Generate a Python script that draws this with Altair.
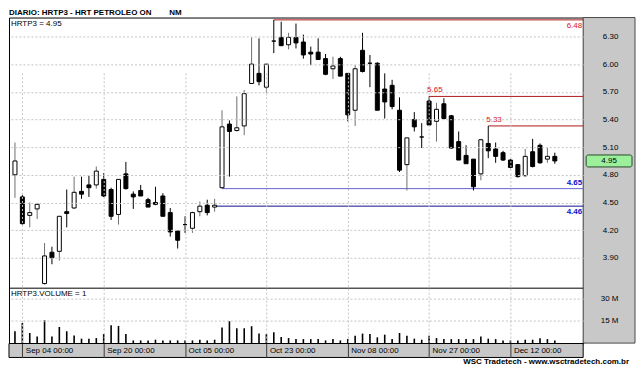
import altair as alt
import pandas as pd

# ---------------- data ----------------
dates = [
    "2012-09-03", "2012-09-04", "2012-09-05", "2012-09-06", "2012-09-10", "2012-09-11", "2012-09-12",
    "2012-09-13", "2012-09-14", "2012-09-17", "2012-09-18", "2012-09-19", "2012-09-20", "2012-09-21",
    "2012-09-24", "2012-09-25", "2012-09-26", "2012-09-27", "2012-09-28", "2012-10-01", "2012-10-02",
    "2012-10-03", "2012-10-04", "2012-10-05", "2012-10-08", "2012-10-09", "2012-10-10", "2012-10-11",
    "2012-10-15", "2012-10-16", "2012-10-17", "2012-10-18", "2012-10-19", "2012-10-22", "2012-10-23",
    "2012-10-24", "2012-10-25", "2012-10-26", "2012-10-29", "2012-10-30", "2012-10-31", "2012-11-01",
    "2012-11-05", "2012-11-06", "2012-11-07", "2012-11-08", "2012-11-09", "2012-11-12", "2012-11-13",
    "2012-11-14", "2012-11-16", "2012-11-19", "2012-11-21", "2012-11-22", "2012-11-23", "2012-11-26",
    "2012-11-27", "2012-11-28", "2012-11-29", "2012-11-30", "2012-12-03", "2012-12-04", "2012-12-05",
    "2012-12-06", "2012-12-07", "2012-12-10", "2012-12-11", "2012-12-12", "2012-12-13", "2012-12-14",
    "2012-12-17", "2012-12-18", "2012-12-19", "2012-12-20",
]
opens = [4.80, 4.56, 4.36, 4.43, 3.62, 3.96, 3.97, 4.40, 4.44, 4.62,
         4.69, 4.69, 4.75, 4.64, 4.37, 4.81, 4.59, 4.63, 4.53, 4.50,
         4.57, 4.39, 4.19, 4.26, 4.22, 4.40, 4.47, 4.45, 4.66, 5.35,
         5.28, 5.33, 5.79, 5.90, 5.75, 6.25, 6.29, 6.21, 6.29, 6.24,
         6.13, 6.13, 6.06, 5.95, 6.06, 5.90, 5.50, 6.15, 6.01, 6.01,
         5.73, 5.77, 5.50, 4.91, 5.40, 5.21, 5.60, 5.38, 5.57, 5.44,
         5.16, 5.01, 4.97, 4.81, 5.14, 5.08, 5.04, 4.96, 4.91, 4.79,
         5.05, 5.12, 4.97, 5.00]
highs = [5.15, 4.58, 4.50, 4.49, 4.06, 4.02, 4.35, 4.64, 4.78, 4.78,
         4.79, 4.89, 4.82, 4.66, 4.75, 4.94, 4.62, 4.69, 4.55, 4.67,
         4.60, 4.44, 4.19, 4.35, 4.40, 4.51, 4.53, 4.54, 5.50, 5.39,
         5.65, 5.72, 6.29, 6.28, 6.00, 6.48, 6.46, 6.34, 6.44, 6.32,
         6.19, 6.28, 6.11, 6.08, 6.08, 5.90, 5.99, 6.34, 6.10, 6.02,
         5.90, 5.83, 5.64, 5.20, 5.48, 5.36, 5.65, 5.58, 5.63, 5.45,
         5.27, 5.12, 4.97, 5.19, 5.33, 5.15, 5.06, 4.97, 4.91, 5.08,
         5.19, 5.14, 5.09, 5.04]
lows = [4.55, 4.26, 4.23, 4.32, 3.61, 3.83, 3.87, 4.23, 4.43, 4.54,
        4.56, 4.65, 4.56, 4.31, 4.26, 4.64, 4.43, 4.57, 4.45, 4.47,
        4.35, 4.13, 4.00, 4.17, 4.17, 4.35, 4.36, 4.40, 4.65, 4.78,
        5.27, 5.23, 5.79, 5.77, 5.69, 6.12, 6.20, 6.16, 6.17, 6.06,
        5.99, 6.05, 5.88, 5.84, 5.87, 5.38, 5.33, 5.91, 5.75, 5.50,
        5.41, 5.51, 4.83, 4.63, 5.27, 5.09, 5.34, 5.16, 5.40, 5.08,
        4.96, 4.92, 4.63, 4.74, 4.98, 4.93, 4.95, 4.87, 4.77, 4.78,
        4.88, 4.92, 4.93, 4.92]
closes = [4.95, 4.27, 4.39, 4.48, 3.92, 3.90, 4.35, 4.38, 4.61, 4.59,
          4.66, 4.84, 4.57, 4.35, 4.75, 4.65, 4.56, 4.57, 4.45, 4.48,
          4.35, 4.18, 4.09, 4.26, 4.39, 4.46, 4.39, 4.47, 5.32, 5.27,
          5.31, 5.68, 6.00, 5.81, 6.00, 6.25, 6.20, 6.29, 6.23, 6.10,
          6.11, 6.05, 5.89, 5.98, 5.87, 5.45, 5.95, 5.92, 6.01, 5.50,
          5.59, 5.54, 4.85, 5.20, 5.32, 5.21, 5.34, 5.51, 5.41, 5.09,
          4.96, 4.92, 4.67, 5.18, 5.06, 5.00, 4.96, 4.88, 4.78, 5.00,
          4.89, 4.93, 5.00, 4.95]
volumes_m = [8.0, 13.6, 6.8, 4.5, 15.5, 4.5, 10.9, 8.0, 5.2, 3.0,
             3.0, 3.4, 6.1, 12.0, 11.6, 6.1, 1.8, 1.8, 1.8, 2.3,
             1.8, 1.8, 1.8, 1.8, 1.8, 2.3, 1.8, 2.3, 10.5, 14.8,
             10.0, 10.0, 11.4, 6.4, 6.1, 7.3, 4.1, 3.4, 2.7, 2.7,
             2.7, 2.7, 1.8, 2.7, 1.8, 2.7, 5.0, 6.4, 6.1, 3.9,
             5.7, 2.7, 6.8, 5.0, 3.0, 2.3, 5.0, 3.4, 2.7, 2.7,
             2.7, 2.7, 2.7, 4.5, 3.0, 2.7, 1.8, 1.8, 1.8, 2.3,
             2.3, 3.2, 2.7, 1.8]

tick_dates = ["2012-09-04", "2012-09-20", "2012-10-05", "2012-10-23",
              "2012-11-08", "2012-11-27", "2012-12-12"]
tick_labels = ["Sep 04 00:00", "Sep 20 00:00", "Oct 05 00:00", "Oct 23 00:00",
               "Nov 08 00:00", "Nov 27 00:00", "Dec 12 00:00"]
price_ticks = [3.90, 4.20, 4.50, 4.80, 5.10, 5.40, 5.70, 6.00, 6.30]
volume_ticks = [15, 30]

level_names = ["r648", "r565", "r533", "s465", "s446"]
level_values = [6.48, 5.65, 5.33, 4.65, 4.46]
level_start_dates = ["2012-10-24", "2012-11-27", "2012-12-07", "2012-10-15", "2012-10-11"]

symbol = "HRTP3"
title_text = "DIARIO: HRTP3 - HRT PETROLEO ON" + "\u00a0" * 8 + "NM"
footer_text = "WSC Tradetech - www.wsctradetech.com.br"

# ---------------- layout / style ----------------
W, H = 576, 327
PRICE_RANGE = [271.5, 0]
VOL_RANGE = [326.6, 271.5]
X_DOMAIN = [-0.1325, 76.16]
PRICE_DOMAIN = [3.5703, 6.5054]
VOL_DOMAIN = [0, 37.06]
FONT = "Liberation Sans"
GRAY = "#c8c8c8"
line_colors = ["#b01818", "#b01818", "#b01818", "#6464d2", "#10108a"]
label_colors = ["#e01010", "#e01010", "#e01010", "#1010c8", "#1010c8"]

df = pd.DataFrame({"date": dates, "open": opens, "high": highs, "low": lows,
                   "close": closes, "volume": volumes_m})
df["i"] = list(range(len(df)))
last = df.tail(1)

tick_idx = [dates.index(d) for d in tick_dates]
label_expr = ("[" + ",".join("'%s'" % t for t in tick_labels) + "][indexof(["
              + ",".join(str(v) for v in tick_idx) + "], datum.value)]")

lv = pd.DataFrame({"name": level_names, "value": level_values,
                   "start": [dates.index(d) for d in level_start_dates]})
one = pd.DataFrame({"k": [0]})

grid_style = dict(gridColor="#c4c4c4", gridDash=[2, 2], gridWidth=1)

xs = alt.Scale(domain=X_DOMAIN, nice=False, zero=False)
x_axis = alt.Axis(values=tick_idx, labelExpr=label_expr, grid=True, **grid_style,
                  domain=False, ticks=True, tickSize=14, tickColor="#3a3a3a",
                  labelAlign="left", labelBaseline="middle", labelPadding=-7,
                  labelOffset=3, labelFlush=False, labelOverlap=False,
                  labelFont=FONT, labelFontSize=8, labelColor="#000",
                  title=None, zindex=1)


def X(f):
    return alt.X(f + ":Q", scale=xs, axis=x_axis)


ps = alt.Scale(domain=PRICE_DOMAIN, range=PRICE_RANGE, nice=False, zero=False)
p_axis = alt.Axis(orient="right", values=price_ticks, format=".2f", grid=True, **grid_style,
                  domain=False, ticks=False, labelPadding=27, labelAlign="center",
                  labelBaseline="middle", labelFont=FONT, labelFontSize=8,
                  labelColor="#000", title=None, zindex=1)


def PY(f, axis=None):
    return alt.Y(f + ":Q", scale=ps, axis=axis)


vs = alt.Scale(domain=VOL_DOMAIN, range=VOL_RANGE, nice=False, zero=True)
v_axis = alt.Axis(orient="right", values=volume_ticks, labelExpr="datum.value + ' M'",
                  grid=True, **grid_style, domain=False, ticks=False, labelPadding=26,
                  labelAlign="center", labelBaseline="middle", labelFont=FONT,
                  labelFontSize=8, labelColor="#000", title=None, zindex=1)

# ---------------- layers ----------------
bg_right = alt.Chart(one).mark_rect(fill=GRAY, stroke="#4a4a4a", strokeWidth=1).encode(
    x=alt.value(W), x2=alt.value(W + 52), y=alt.value(0), y2=alt.value(VOL_RANGE[0]))
bg_bottom = alt.Chart(one).mark_rect(fill=GRAY, stroke="#000", strokeWidth=1).encode(
    x=alt.value(0), x2=alt.value(W), y=alt.value(H), y2=alt.value(H + 14))
sep = alt.Chart(one).mark_rule(color="#000", strokeWidth=1).encode(
    x=alt.value(0), x2=alt.value(W), y=alt.value(PRICE_RANGE[0]))

level_lines = alt.Chart(lv).mark_rule(strokeWidth=1).encode(
    x=X("start"), x2=alt.value(W), y=PY("value"),
    color=alt.Color("name:N", scale=alt.Scale(domain=level_names, range=line_colors), legend=None))

lab_color = alt.Color("name:N", scale=alt.Scale(domain=level_names, range=label_colors), legend=None)
lab_left = alt.Chart(lv).transform_filter(
    alt.FieldOneOfPredicate(field="name", oneOf=["r565", "r533"])
).mark_text(font=FONT, fontSize=8, align="left", baseline="middle", dx=-2, dy=-6).encode(
    x=X("start"), y=PY("value"), text=alt.Text("value:Q", format=".2f"), color=lab_color)
lab_right_top = alt.Chart(lv).transform_filter(
    alt.FieldOneOfPredicate(field="name", oneOf=["r648"])
).mark_text(font=FONT, fontSize=8, align="right", baseline="middle", dy=6).encode(
    x=alt.value(W - 1), y=PY("value"), text=alt.Text("value:Q", format=".2f"), color=lab_color)
lab_right_above = alt.Chart(lv).transform_filter(
    alt.FieldOneOfPredicate(field="name", oneOf=["s465"])
).mark_text(font=FONT, fontSize=8, fontWeight="bold", align="right", baseline="middle", dy=-6).encode(
    x=alt.value(W - 1), y=PY("value"), text=alt.Text("value:Q", format=".2f"), color=lab_color)
lab_right_below = alt.Chart(lv).transform_filter(
    alt.FieldOneOfPredicate(field="name", oneOf=["s446"])
).mark_text(font=FONT, fontSize=8, fontWeight="bold", align="right", baseline="middle", dy=6).encode(
    x=alt.value(W - 1), y=PY("value"), text=alt.Text("value:Q", format=".2f"), color=lab_color)

up = "datum.close > datum.open"
wicks = alt.Chart(df).mark_rule(strokeWidth=1).encode(
    x=X("i"), y=PY("low", p_axis), y2="high:Q",
    color=alt.condition(up, alt.value("#6e6e6e"), alt.value("#000000")))
bodies = alt.Chart(df).mark_bar(width=4, stroke="#000", strokeWidth=1).encode(
    x=X("i"), y=PY("open"), y2="close:Q",
    fill=alt.condition(up, alt.value("#ffffff"), alt.value("#000000")))

vol = alt.Chart(df).mark_bar(width=1.6, color="#000").encode(
    x=X("i"), y=alt.Y("volume:Q", scale=vs, axis=v_axis))

badge = alt.Chart(last).mark_rect(fill="#9cf09c", stroke="#2a4a2a", strokeWidth=1,
                                  cornerRadius=2, yOffset=-6, y2Offset=6).encode(
    x=alt.value(W + 3), x2=alt.value(W + 49), y=PY("close"), y2="close:Q")
badge_txt = alt.Chart(last).mark_text(font=FONT, fontSize=8, baseline="middle", align="center").encode(
    x=alt.value(W + 26), y=PY("close"), text=alt.Text("close:Q", format=".2f"))

price_lbl = alt.Chart(one).mark_text(font=FONT, fontSize=8, align="left", baseline="top").encode(
    x=alt.value(2), y=alt.value(2), text=alt.value("%s = %.2f" % (symbol, closes[-1])))
vol_lbl = alt.Chart(one).mark_text(font=FONT, fontSize=8, align="left", baseline="top").encode(
    x=alt.value(2), y=alt.value(PRICE_RANGE[0] + 2), text=alt.value("%s.VOLUME = 1" % symbol))
title = alt.Chart(one).mark_text(font=FONT, fontSize=8, fontWeight="bold", align="left",
                                 baseline="bottom").encode(
    x=alt.value(0), y=alt.value(-1), text=alt.value(title_text))
footer = alt.Chart(one).mark_text(font=FONT, fontSize=8, fontWeight="bold", align="right",
                                  baseline="middle").encode(
    x=alt.value(W + 46), y=alt.value(H + 19), text=alt.value(footer_text))

chart = alt.layer(
    bg_right, bg_bottom, level_lines, wicks, bodies, vol, sep,
    lab_left, lab_right_top, lab_right_above, lab_right_below, badge, badge_txt,
    price_lbl, vol_lbl, title, footer,
).resolve_scale(y="independent", color="independent").properties(
    width=W, height=H, padding=0, background="#ffffff"
).configure_view(stroke="#000", strokeWidth=1)

chart.save("out.html", embed_options={"renderer": "svg", "actions": False})
